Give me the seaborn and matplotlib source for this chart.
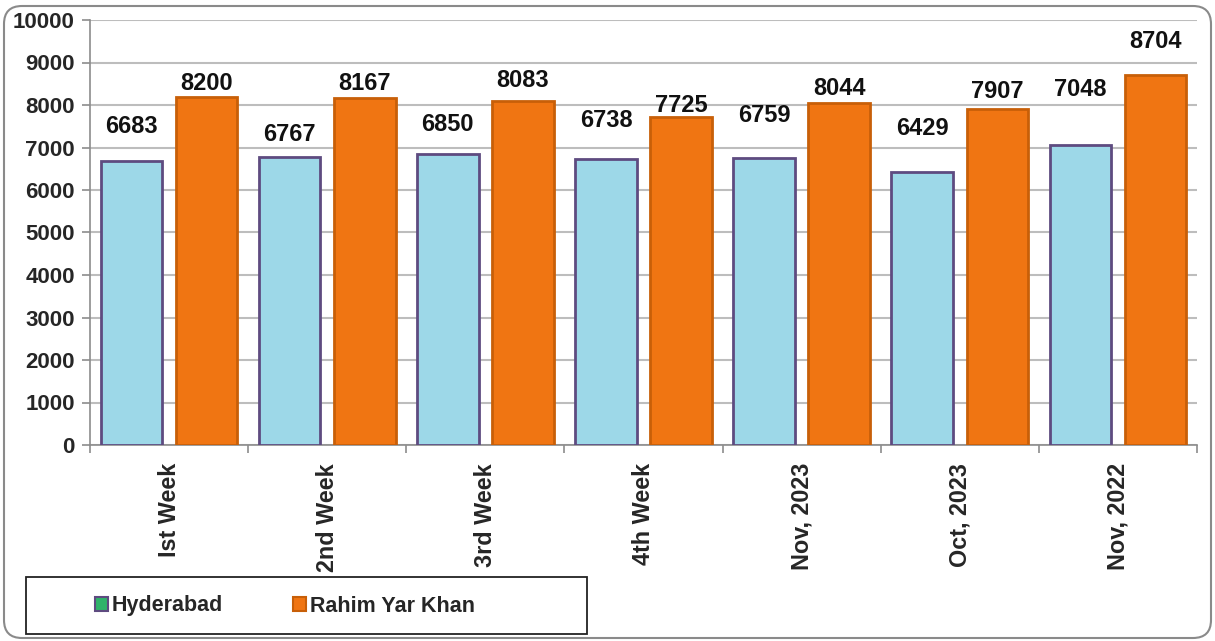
import matplotlib
matplotlib.use("Agg")
import matplotlib.pyplot as plt
import seaborn as sns
import pandas as pd
import numpy as np
from matplotlib.patches import Patch, FancyBboxPatch, Rectangle
from matplotlib.transforms import IdentityTransform

# ---- data ----
categories = ["Ist Week", "2nd Week", "3rd Week", "4th Week", "Nov, 2023", "Oct, 2023", "Nov, 2022"]
hyderabad = [6683, 6767, 6850, 6738, 6759, 6429, 7048]
rahim_yar_khan = [8200, 8167, 8083, 7725, 8044, 7907, 8704]
series_names = ["Hyderabad", "Rahim Yar Khan"]
y_ticks = [0, 1000, 2000, 3000, 4000, 5000, 6000, 7000, 8000, 9000, 10000]

# ---- layout (label gap above bar tops, pixels) ----
label_gap_hyd = [34, 23, 29, 38, 42, 43, 56]
label_gap_ryk = [13, 14, 21, 11, 15, 17, 34]

df = pd.DataFrame({
    "category": categories * 2,
    "value": hyderabad + rahim_yar_khan,
    "series": [series_names[0]] * len(categories) + [series_names[1]] * len(categories),
})

sns.set_theme(style="white")
plt.rcParams["font.family"] = ["Liberation Sans", "DejaVu Sans"]
plt.rcParams["font.weight"] = "bold"

W, H = 1215, 641
fig = plt.figure(figsize=(W / 100, H / 100), dpi=100)
left, right, top, bottom = 90, 1197, 20, 445
ax = fig.add_axes([left / W, 1 - bottom / H, (right - left) / W, (bottom - top) / H])

face = {"Hyderabad": "#9dd8e8", "Rahim Yar Khan": "#f07512"}
edges = ["#5e4b80", "#c85f08"]

sns.barplot(data=df, x="category", y="value", hue="series", palette=face,
            order=categories, hue_order=series_names, width=0.95, gap=0.18,
            saturation=1, ax=ax, legend=False, zorder=3)

for cont, ec in zip(ax.containers, edges):
    for bar in cont:
        bar.set_edgecolor(ec)
        bar.set_linewidth(2)

ax.set_ylim(0, 10000)
ax.set_xlim(-0.5, len(categories) - 0.5)
ax.set_yticks(y_ticks)
ax.set_yticklabels([str(v) for v in y_ticks], fontsize=16, fontweight="bold")
ax.grid(axis="y", color="#bdbdbd", linewidth=1.5, zorder=0)
ax.set_axisbelow(True)
ax.set_xlabel("")
ax.set_ylabel("")

ax.set_xticks(range(len(categories)))
ax.set_xticklabels(categories, rotation=90, fontsize=16.8, fontweight="bold", va="top", ha="center")
ax.set_xticks(np.arange(-0.5, len(categories), 1.0), minor=True)
ax.tick_params(axis="x", which="major", length=0, pad=13)
ax.tick_params(axis="x", which="minor", length=6, width=1.2, color="#8c8c8c", direction="out", bottom=True)
ax.tick_params(axis="y", which="major", length=6, width=1.2, color="#8c8c8c", direction="out", left=True, pad=5)

for s in ["top", "right"]:
    ax.spines[s].set_visible(False)
ax.spines["left"].set_color("#8c8c8c")
ax.spines["left"].set_linewidth(1.2)
ax.spines["bottom"].set_color("#8c8c8c")
ax.spines["bottom"].set_linewidth(1.2)

# value labels
for cont, gaps in zip(ax.containers, [label_gap_hyd, label_gap_ryk]):
    for bar, g in zip(cont, gaps):
        h = bar.get_height()
        ax.annotate(f"{int(h)}", (bar.get_x() + bar.get_width() / 2, h),
                    xytext=(0, g), textcoords="offset pixels",
                    ha="center", va="center", fontsize=17, fontweight="bold",
                    color="#111111", zorder=5)

# legend box
fig.add_artist(Rectangle((26, H - 634), 561, 57, transform=IdentityTransform(),
                         fill=False, edgecolor="#222222", linewidth=1.3))
handles = [Patch(facecolor="#2fb36a", edgecolor="#5e4b80", linewidth=1.5),
           Patch(facecolor="#f07512", edgecolor="#c85f08", linewidth=1.5)]
fig.legend(handles, series_names, loc="center left",
           bbox_to_anchor=(95 / W, 1 - 606 / H), frameon=False, ncol=2,
           prop={"weight": "bold", "size": 15.5}, handlelength=0.6, handleheight=0.6,
           handletextpad=0.15, columnspacing=3.3, borderpad=0, borderaxespad=0)

# outer rounded border
fig.add_artist(FancyBboxPatch((4, 3), 1207, 632, transform=IdentityTransform(),
                              boxstyle="round,pad=0,rounding_size=18",
                              fill=False, edgecolor="#8a8a8a", linewidth=1.5))

fig.savefig("out.png", dpi=100)
